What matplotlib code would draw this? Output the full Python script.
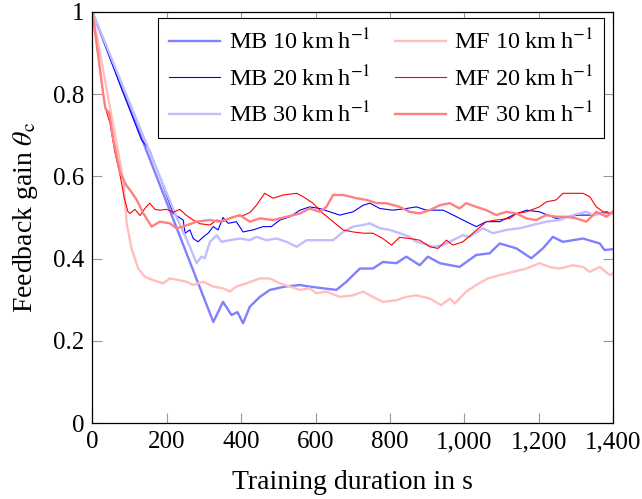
import matplotlib
matplotlib.use("Agg")
import matplotlib.pyplot as plt
from matplotlib.ticker import FuncFormatter

plt.rcParams['font.family'] = ['Liberation Serif', 'DejaVu Serif']
plt.rcParams['mathtext.fontset'] = 'stix'

# MB 10 km/h
mb10_x = [0, 325, 351, 374, 390, 405, 423, 450, 477, 517, 558, 584, 620, 656, 683, 719, 754, 781,
          817, 844, 880, 902, 934, 987, 1032, 1068, 1095, 1140, 1180, 1211, 1238, 1265, 1319, 1364,
          1377, 1399]
mb10_y = [1.0, 0.246, 0.295, 0.263, 0.27, 0.243, 0.283, 0.307, 0.324, 0.332, 0.336, 0.332, 0.328,
          0.324, 0.344, 0.376, 0.376, 0.392, 0.389, 0.405, 0.384, 0.405, 0.389, 0.380, 0.409, 0.413,
          0.437, 0.425, 0.401, 0.425, 0.453, 0.441, 0.449, 0.437, 0.421, 0.423]

# MB 20 km/h
mb20_x = [0, 78, 132, 154, 186, 217, 244, 249, 262, 271, 284, 298, 311, 325, 338, 351, 365, 387,
          405, 432, 459, 481, 504, 531, 558, 584, 611, 638, 665, 701, 728, 746, 773, 808, 844, 871,
          898, 943, 979, 1005, 1032, 1059, 1095, 1131, 1167, 1202, 1247, 1274, 1310, 1346, 1382, 1399]
mb20_y = [1.0, 0.814, 0.689, 0.664, 0.587, 0.510, 0.494, 0.462, 0.470, 0.449, 0.441, 0.453, 0.462,
          0.478, 0.470, 0.500, 0.486, 0.490, 0.465, 0.470, 0.478, 0.478, 0.494, 0.502, 0.518, 0.526,
          0.522, 0.514, 0.506, 0.514, 0.530, 0.535, 0.522, 0.518, 0.522, 0.526, 0.518, 0.518, 0.502,
          0.490, 0.478, 0.490, 0.490, 0.506, 0.518, 0.514, 0.498, 0.502, 0.506, 0.506, 0.514, 0.510]

# MB 30 km/h
mb30_x = [0, 222, 262, 280, 293, 302, 316, 334, 347, 369, 396, 423, 441, 468, 495, 522, 549, 576,
          611, 647, 674, 701, 728, 746, 773, 799, 826, 853, 871, 889, 916, 943, 969, 996, 1014, 1050,
          1077, 1113, 1149, 1184, 1220, 1256, 1292, 1328, 1346, 1373, 1399]
mb30_y = [1.0, 0.510, 0.429, 0.389, 0.405, 0.401, 0.441, 0.457, 0.441, 0.445, 0.449, 0.445, 0.453,
          0.445, 0.449, 0.441, 0.429, 0.445, 0.445, 0.445, 0.465, 0.478, 0.482, 0.486, 0.474, 0.470,
          0.462, 0.453, 0.441, 0.437, 0.429, 0.433, 0.445, 0.457, 0.453, 0.474, 0.462, 0.470, 0.474,
          0.482, 0.490, 0.494, 0.506, 0.514, 0.506, 0.510, 0.510]

# MF 10 km/h
mf10_x = [0, 83, 92, 105, 123, 141, 163, 190, 208, 231, 253, 271, 298, 325, 351, 369, 387, 414,
          450, 477, 504, 531, 558, 584, 602, 629, 665, 701, 728, 754, 781, 817, 844, 871, 907, 938,
          961, 974, 1005, 1032, 1063, 1095, 1131, 1167, 1202, 1229, 1256, 1292, 1319, 1337, 1364,
          1391, 1399]
mf10_y = [1.0, 0.591, 0.486, 0.425, 0.376, 0.356, 0.348, 0.340, 0.352, 0.348, 0.344, 0.336, 0.344,
          0.332, 0.328, 0.320, 0.332, 0.340, 0.352, 0.352, 0.340, 0.332, 0.324, 0.328, 0.316, 0.320,
          0.307, 0.311, 0.320, 0.307, 0.295, 0.299, 0.307, 0.311, 0.303, 0.287, 0.303, 0.291, 0.320,
          0.336, 0.352, 0.360, 0.368, 0.376, 0.389, 0.380, 0.376, 0.384, 0.380, 0.368, 0.380, 0.360,
          0.364]

# MF 20 km/h
mf20_x = [0, 20, 34, 47, 60, 75, 85, 95, 101, 114, 128, 141, 154, 168, 181, 199, 217, 235, 253,
          271, 289, 316, 334, 351, 378, 405, 423, 441, 463, 486, 513, 549, 566, 593, 620, 647, 674,
          701, 728, 754, 781, 804, 826, 853, 880, 907, 929, 952, 969, 996, 1023, 1059, 1086, 1122,
          1140, 1167, 1202, 1220, 1247, 1265, 1292, 1319, 1337, 1355, 1373, 1391, 1399]
mf20_y = [1.0, 0.86, 0.77, 0.73, 0.66, 0.60, 0.55, 0.515, 0.51, 0.52, 0.505, 0.522, 0.535, 0.52,
          0.518, 0.52, 0.513, 0.52, 0.505, 0.494, 0.485, 0.482, 0.494, 0.49, 0.502, 0.505, 0.512,
          0.53, 0.559, 0.547, 0.555, 0.559, 0.551, 0.535, 0.51, 0.49, 0.47, 0.465, 0.462, 0.462,
          0.449, 0.433, 0.452, 0.449, 0.445, 0.429, 0.425, 0.445, 0.433, 0.441, 0.462, 0.49, 0.494,
          0.498, 0.51, 0.514, 0.526, 0.538, 0.543, 0.559, 0.559, 0.559, 0.551, 0.526, 0.514, 0.51,
          0.514]

# MF 30 km/h
mf30_x = [0, 29, 35, 45, 56, 74, 90, 101, 119, 137, 159, 181, 208, 226, 244, 280, 316, 343, 369,
          396, 423, 450, 486, 522, 558, 584, 611, 629, 647, 674, 710, 737, 764, 790, 826, 853, 880,
          907, 934, 961, 987, 1005, 1032, 1059, 1086, 1113, 1140, 1167, 1193, 1220, 1247, 1274,
          1301, 1328, 1355, 1382, 1399]
mf30_y = [1.0, 0.80, 0.765, 0.755, 0.69, 0.61, 0.58, 0.567, 0.543, 0.510, 0.478, 0.490, 0.486,
          0.474, 0.478, 0.490, 0.494, 0.490, 0.498, 0.506, 0.490, 0.498, 0.494, 0.502, 0.510, 0.522,
          0.514, 0.526, 0.555, 0.555, 0.547, 0.543, 0.535, 0.535, 0.526, 0.514, 0.510, 0.518, 0.530,
          0.535, 0.522, 0.535, 0.526, 0.518, 0.506, 0.514, 0.510, 0.498, 0.494, 0.506, 0.502, 0.502,
          0.498, 0.490, 0.514, 0.502, 0.514]

fig = plt.figure(figsize=(6.42, 4.99), dpi=100)
ax = fig.add_axes([0.144, 0.152, 0.811, 0.824])

unit = '\u2009km\u2009h$^{-1}$'
thick = 1.7
thin = 0.8
ax.plot(mb10_x, mb10_y, color='#8080ff', lw=thick, label='MB 10' + unit)
ax.plot(mb20_x, mb20_y, color='#0000ff', lw=thin, label='MB 20' + unit)
ax.plot(mb30_x, mb30_y, color='#bfbfff', lw=thick, label='MB 30' + unit)
ax.plot(mf10_x, mf10_y, color='#ffbfbf', lw=thick, label='MF 10' + unit)
ax.plot(mf20_x, mf20_y, color='#ff0000', lw=thin, label='MF 20' + unit)
ax.plot(mf30_x, mf30_y, color='#ff8080', lw=thick, label='MF 30' + unit)

ax.set_xlim(0, 1400)
ax.set_ylim(0, 1)
ax.set_xticks(range(0, 1401, 200))
ax.set_yticks([0, 0.2, 0.4, 0.6, 0.8, 1])
ax.xaxis.set_major_formatter(FuncFormatter(lambda v, p: f"{int(v):,}"))
ax.yaxis.set_major_formatter(FuncFormatter(lambda v, p: "0" if v == 0 else ("1" if v == 1 else f"{v:.1f}")))
ax.tick_params(direction='in', length=7, width=0.8, color='#999999', labelsize=18,
               top=True, right=True, pad=6)
for s in ax.spines.values():
    s.set_linewidth(0.9)

ax.set_xlabel('Training duration in s', fontsize=20, labelpad=12)
ax.set_ylabel(r'Feedback gain $\theta_\mathrm{c}$', fontsize=20, labelpad=9)

leg = ax.legend(ncol=2, loc='upper right', bbox_to_anchor=(0.983, 0.985), fontsize=17.5,
                frameon=True, fancybox=False, edgecolor='black', framealpha=1,
                handlelength=2.1, handletextpad=0.35, columnspacing=1.0, labelspacing=0.45,
                borderpad=0.45, borderaxespad=0)
leg.get_frame().set_linewidth(0.8)

fig.savefig('out.png', dpi=100)
